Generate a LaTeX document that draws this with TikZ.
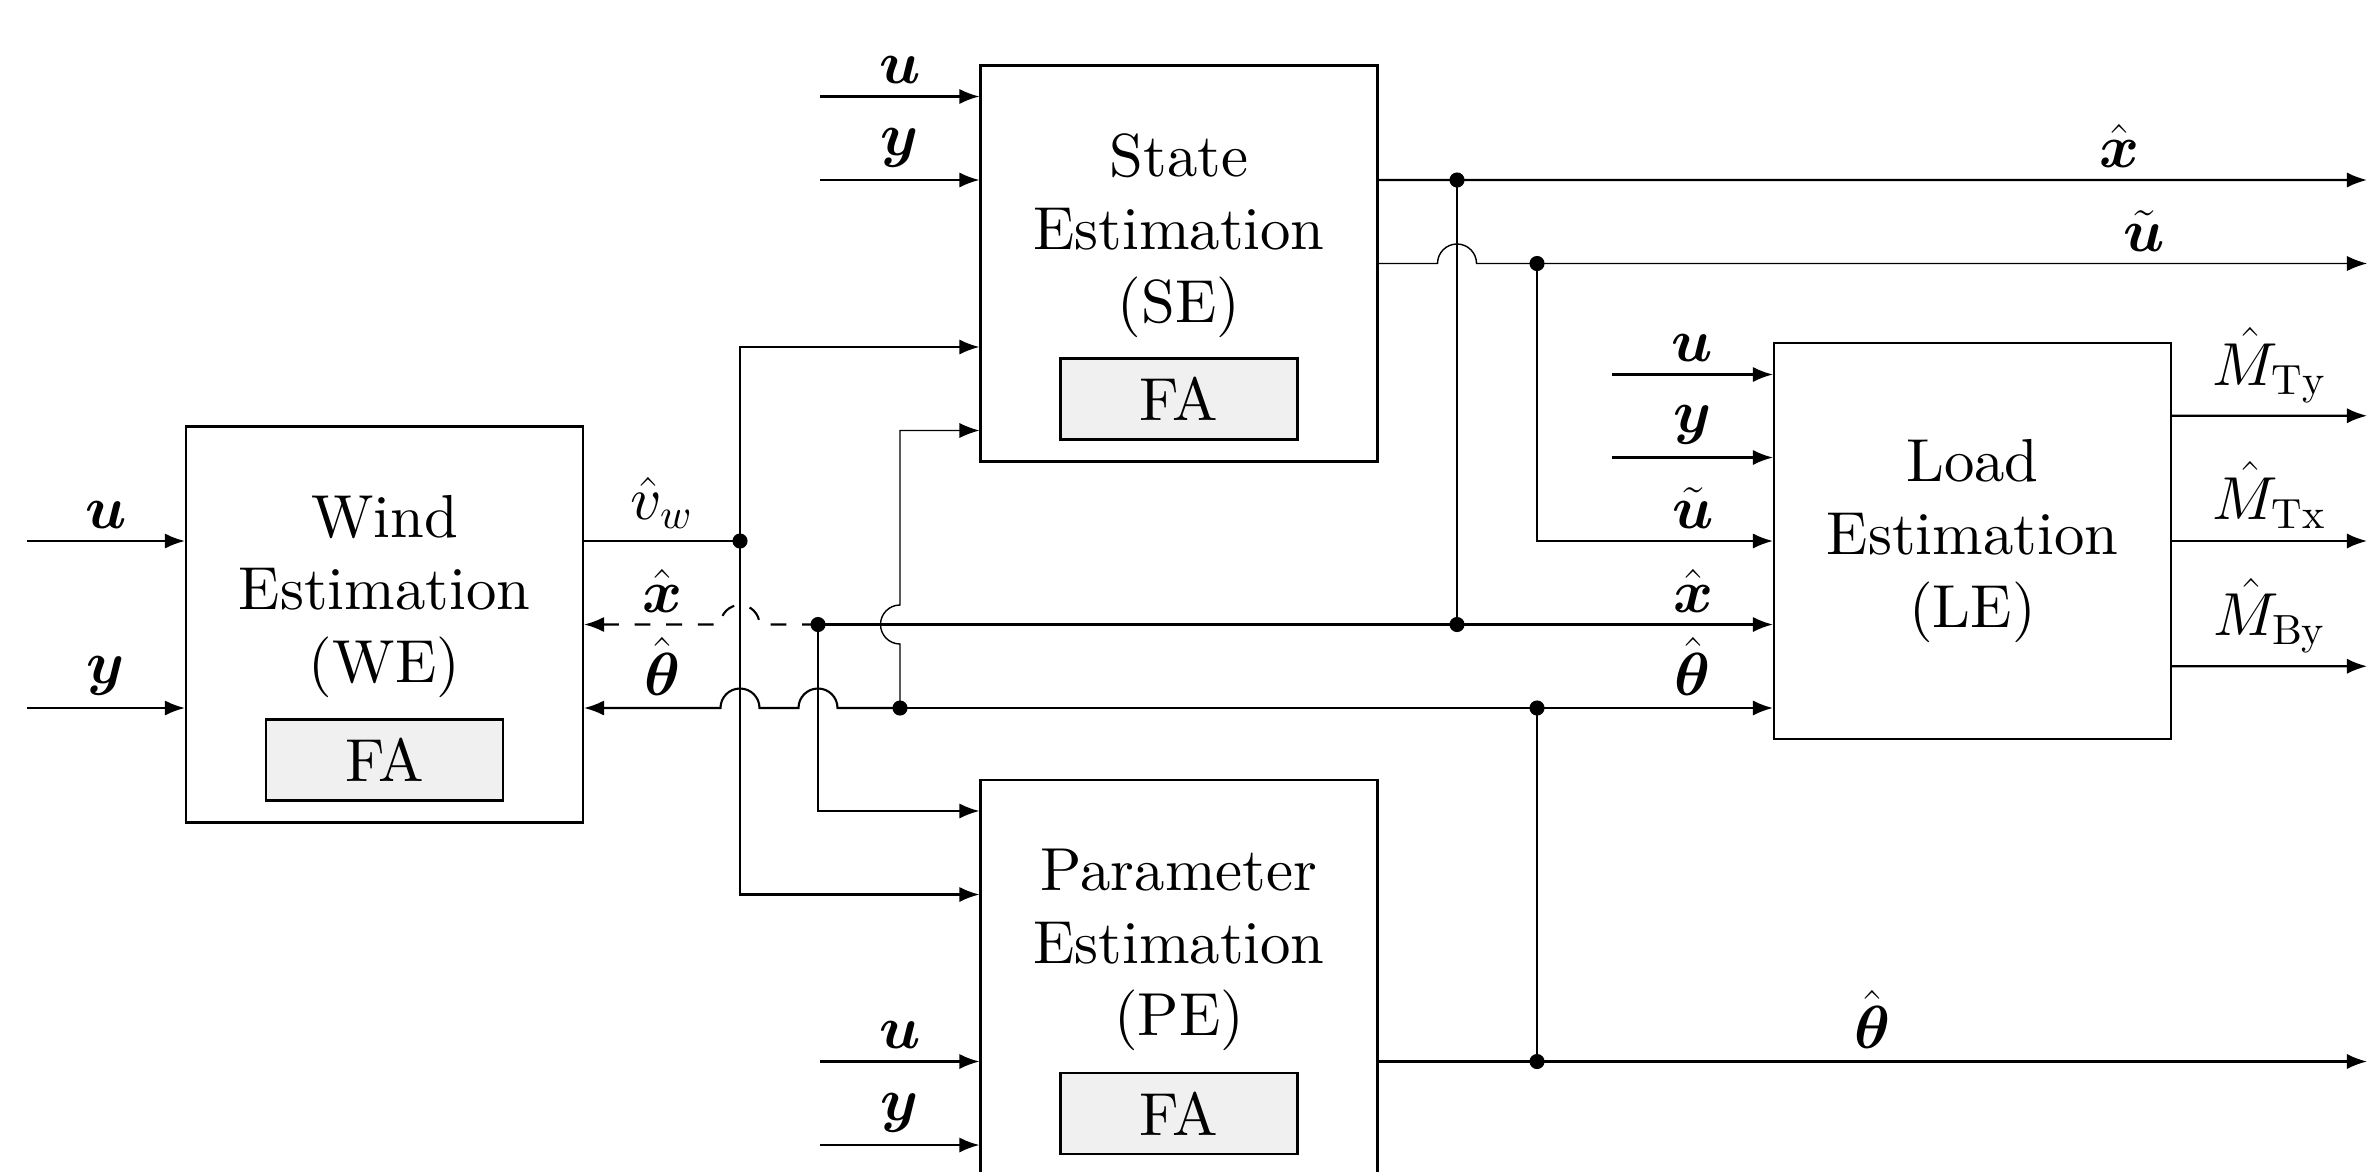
\documentclass[tikz,border=0pt]{standalone}
\usepackage{amsmath}
\usepackage{amssymb}
\usepackage{fontspec}
\setmainfont{lmroman10-regular.otf}
\usepackage{tikz}
\usetikzlibrary{arrows.meta,positioning,calc}
\DeclareFontShape{OML}{cmm}{m}{it}{<-> cmmi10}{}
\definecolor{fagray}{RGB}{240,240,240}

\begin{document}
\begin{tikzpicture}[font=\fontsize{17.28}{20.7}\selectfont,
  blk/.style={draw,semithick,minimum width=3.97cm,minimum height=3.96cm},
  fa/.style={draw,semithick,fill=fagray,minimum width=2.37cm,minimum height=0.81cm},
  txt/.style={align=center},
  sig/.style={semithick,-{Latex[length=5.7pt,width=4.3pt]}},
  wire/.style={semithick},
  fb/.style={dash pattern=on 4.5pt off 4.5pt},
  dot/.style={circle,fill,inner sep=0pt,minimum size=4.3pt}]

\useasboundingbox (0,0) rectangle (23.67,-11.72);

\node[blk] (we) at (3.845,-6.245) {};
\node[blk] (se) at (11.79,-2.635) {};
\node[blk] (pe) at (11.79,-9.78) {};
\node[blk,txt] (le) at (19.725,-5.41) {Load\\Estimation\\(LE)};

\node[fa,above=0.22cm of we.south] (wefa) {FA};
\node[fa,above=0.22cm of se.south] (sefa) {FA};
\node[fa,above=0.22cm of pe.south] (pefa) {FA};
\node[txt] (wetxt) at ($(we.center)+(0,0.28)$) {Wind\\Estimation\\(WE)};
\node[txt] (setxt) at ($(se.center)+(0,0.28)$) {State\\Estimation\\(SE)};
\node[txt] (petxt) at ($(pe.center)+(0,0.28)$) {Parameter\\Estimation\\(PE)};

\coordinate (weu) at (0.27,-5.41);
\coordinate (wey) at (0.27,-7.08);
\coordinate (seu) at (8.20,-0.965);
\coordinate (sey) at (8.20,-1.80);
\coordinate (peu) at (8.20,-10.615);
\coordinate (pey) at (8.20,-11.45);
\coordinate (leu) at (16.12,-3.745);
\coordinate (ley) at (16.12,-4.575);

\coordinate (jv) at (7.40,-5.41);
\coordinate (jx) at (8.18,-6.245);
\coordinate (jt) at (9.00,-7.08);
\coordinate (jsx) at (14.57,-1.80);
\coordinate (jsu) at (15.37,-2.635);
\coordinate (jlx) at (14.57,-6.245);
\coordinate (jlt) at (15.37,-7.08);
\coordinate (jpt) at (15.37,-10.615);

\coordinate (outx) at (23.67,-1.80);
\coordinate (outu) at (23.67,-2.635);
\coordinate (outt) at (23.67,-10.615);
\coordinate (outty) at (23.67,-4.1575);
\coordinate (outtx) at (23.67,-5.41);
\coordinate (outby) at (23.67,-6.6625);

\draw[sig] (weu) -- (weu -| we.west) node[midway,above] (l1) {$\boldsymbol{u}$};
\draw[sig] (wey) -- (wey -| we.west) node[midway,above] (l2) {$\boldsymbol{y}$};
\draw[sig] (seu) -- (seu -| se.west) node[midway,above] (l3) {$\boldsymbol{u}$};
\draw[sig] (sey) -- (sey -| se.west) node[midway,above] (l4) {$\boldsymbol{y}$};
\draw[sig] (peu) -- (peu -| pe.west) node[midway,above] (l5) {$\boldsymbol{u}$};
\draw[sig] (pey) -- (pey -| pe.west) node[midway,above] (l6) {$\boldsymbol{y}$};
\draw[sig] (leu) -- (leu -| le.west) node[midway,above] (l7) {$\boldsymbol{u}$};
\draw[sig] (ley) -- (ley -| le.west) node[midway,above] (l8) {$\boldsymbol{y}$};

\draw[wire] (we.east |- jv) -- (jv) node[midway,above] (l9) {$\hat{v}_w$};
\draw[sig] (jv) |- ($(se.west)+(0,-0.835)$);
\draw[sig] (jv) |- ($(pe.west)+(0,0.835)$);

\draw[sig,fb] (jx) -- ($(jv |- jx)+(0.195,0)$) arc[start angle=0,end angle=180,radius=0.195]
  -- (we.east);
\node[above] (l10) at ($(we.east)!0.5!(jv |- we.east)$) {$\hat{\boldsymbol{x}}$};
\draw[sig] (jt) -- ($(jx |- jt)+(0.195,0)$) arc[start angle=0,end angle=180,radius=0.195]
  -- ($(jv |- jt)+(0.195,0)$) arc[start angle=0,end angle=180,radius=0.195]
  -- (we.east |- jt);
\node[above] (l11) at ($(we.east |- jt)!0.5!(jv |- jt)$) {$\hat{\boldsymbol{\theta}}$};
\draw[sig] (jx) |- ($(pe.west)+(0,1.67)$);
\draw[sig,thin] (jt) -- ($(jt |- jx)+(0,-0.195)$) arc[start angle=-90,end angle=-270,radius=0.195]
  |- ($(se.west)+(0,-1.67)$);

\draw[sig] (jx) -- (le.west |- jx);
\draw[sig] (jt) -- (le.west |- jt);
\draw[sig] (jsu) |- (le.west);
\node[above] (l12) at (16.93,-5.41) {$\tilde{\boldsymbol{u}}$};
\node[above] (l13) at (16.93,-6.245) {$\hat{\boldsymbol{x}}$};
\node[above] (l14) at (16.93,-7.08) {$\hat{\boldsymbol{\theta}}$};

\draw[sig] ($(se.east)+(0,0.835)$) -- (outx) node[pos=0.75,above] (l15) {$\hat{\boldsymbol{x}}$};
\draw[sig,thin] (se.east) -- ($(jsx |- se.east)+(-0.195,0)$) arc[start angle=180,end angle=0,radius=0.195]
  -- (outu) node[pos=0.75,above] (l16) {$\tilde{\boldsymbol{u}}$};
\draw[wire] (jsx) -- (jlx);
\draw[sig] ($(pe.east)+(0,-0.835)$) -- (outt) node[midway,above] (l17) {$\hat{\boldsymbol{\theta}}$};
\draw[wire] (jpt) -- (jlt);

\draw[sig] ($(le.east)+(0,1.2525)$) -- (outty) node[midway,above] (l18) {$\hat{M}_{\mathrm{Ty}}$};
\draw[sig] (le.east) -- (outtx) node[midway,above] (l19) {$\hat{M}_{\mathrm{Tx}}$};
\draw[sig] ($(le.east)+(0,-1.2525)$) -- (outby) node[midway,above] (l20) {$\hat{M}_{\mathrm{By}}$};

\foreach \j in {jv,jx,jt,jsx,jsu,jlx,jlt,jpt}
  \node[dot] at (\j) {};
\end{tikzpicture}
\end{document}
